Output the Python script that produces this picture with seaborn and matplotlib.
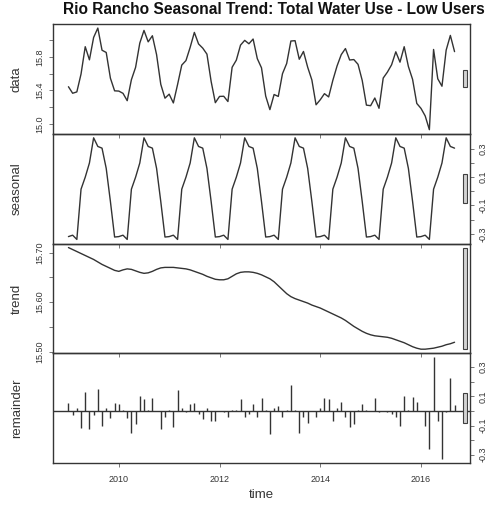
import numpy as np
import matplotlib
matplotlib.use("Agg")
import matplotlib.pyplot as plt
import seaborn as sns
from matplotlib.patches import Rectangle
from matplotlib.ticker import FixedLocator, FixedFormatter

# Monthly series, Jan 2009 .. Sep 2016 (log scale water use)
start_year = 2009

data = [
    15.444, 15.366, 15.382, 15.596, 15.923, 15.766, 16.034, 16.146, 15.881, 15.854, 15.546, 15.395,
    15.392, 15.365, 15.277, 15.528, 15.676, 15.966, 16.118, 15.981, 16.054, 15.828, 15.473, 15.307,
    15.355, 15.250, 15.470, 15.703, 15.757, 15.915, 16.094, 15.956, 15.906, 15.834, 15.507, 15.253,
    15.328, 15.330, 15.267, 15.677, 15.762, 15.942, 15.999, 15.958, 16.015, 15.780, 15.670, 15.332,
    15.170, 15.351, 15.328, 15.600, 15.722, 15.991, 15.995, 15.773, 15.866, 15.678, 15.525, 15.228,
    15.288, 15.361, 15.322, 15.521, 15.692, 15.828, 15.901, 15.764, 15.769, 15.712, 15.519, 15.224,
    15.217, 15.309, 15.186, 15.548, 15.619, 15.707, 15.862, 15.738, 15.923, 15.686, 15.532, 15.244,
    15.185, 15.095, 14.930, 15.890, 15.539, 15.450, 15.882, 16.058, 15.864,
]

seasonal = [
    -0.320, -0.310, -0.340, 0.015, 0.100, 0.200, 0.378, 0.317, 0.305, 0.162, -0.072, -0.323,
    -0.320, -0.310, -0.340, 0.015, 0.100, 0.200, 0.378, 0.317, 0.305, 0.162, -0.072, -0.323,
    -0.320, -0.310, -0.340, 0.015, 0.100, 0.200, 0.378, 0.317, 0.305, 0.162, -0.072, -0.323,
    -0.320, -0.310, -0.340, 0.015, 0.100, 0.200, 0.378, 0.317, 0.305, 0.162, -0.072, -0.323,
    -0.320, -0.310, -0.340, 0.015, 0.100, 0.200, 0.378, 0.317, 0.305, 0.162, -0.072, -0.323,
    -0.320, -0.310, -0.340, 0.015, 0.100, 0.200, 0.378, 0.317, 0.305, 0.162, -0.072, -0.323,
    -0.320, -0.310, -0.340, 0.015, 0.100, 0.200, 0.378, 0.317, 0.305, 0.162, -0.072, -0.323,
    -0.320, -0.310, -0.340, 0.015, 0.100, 0.200, 0.378, 0.317, 0.305,
]

trend = [
    15.710, 15.706, 15.702, 15.698, 15.694, 15.690, 15.686, 15.681, 15.676, 15.672, 15.668, 15.664,
    15.662, 15.665, 15.667, 15.666, 15.663, 15.660, 15.658, 15.659, 15.662, 15.666, 15.669, 15.670,
    15.670, 15.670, 15.669, 15.668, 15.667, 15.665, 15.662, 15.659, 15.656, 15.652, 15.649, 15.646,
    15.645, 15.645, 15.647, 15.652, 15.657, 15.660, 15.661, 15.661, 15.660, 15.658, 15.655, 15.651,
    15.647, 15.641, 15.633, 15.625, 15.617, 15.611, 15.607, 15.604, 15.601, 15.598, 15.594, 15.591,
    15.588, 15.584, 15.580, 15.576, 15.572, 15.568, 15.563, 15.557, 15.551, 15.546, 15.541, 15.537,
    15.534, 15.532, 15.531, 15.530, 15.529, 15.527, 15.524, 15.521, 15.518, 15.514, 15.510, 15.507,
    15.505, 15.505, 15.506, 15.507, 15.509, 15.511, 15.514, 15.516, 15.519,
]

remainder = [
    0.054, -0.030, 0.020, -0.117, 0.129, -0.124, -0.030, 0.148, -0.100, 0.020, -0.050, 0.054,
    0.050, 0.010, -0.050, -0.153, -0.087, 0.106, 0.082, 0.005, 0.087, 0.000, -0.124, -0.040,
    0.005, -0.110, 0.141, 0.020, -0.010, 0.050, 0.054, -0.020, -0.055, 0.020, -0.070, -0.070,
    0.003, -0.005, -0.040, 0.010, 0.005, 0.082, -0.040, -0.020, 0.050, -0.040, 0.087, 0.004,
    -0.157, 0.020, 0.035, -0.040, 0.005, 0.180, 0.010, -0.148, -0.040, -0.082, 0.003, -0.040,
    0.020, 0.087, 0.082, -0.070, 0.020, 0.060, -0.040, -0.110, -0.087, 0.004, 0.050, 0.010,
    0.003, 0.087, -0.005, 0.003, -0.010, -0.020, -0.040, -0.100, 0.100, 0.010, 0.094, 0.060,
    0.000, -0.100, -0.258, 0.368, -0.070, -0.329, -0.010, 0.225, 0.040,
]

panel_names = ["data", "seasonal", "trend", "remainder"]
year_ticks = [2010, 2012, 2014, 2016]
year_labels = ["2010", "2012", "2014", "2016"]

data_ticks = [15.0, 15.2, 15.4, 15.6, 15.8, 16.0]
data_labels = ["15.0", "", "15.4", "", "15.8", ""]
seasonal_ticks = [-0.3, -0.2, -0.1, 0.0, 0.1, 0.2, 0.3]
seasonal_labels = ["-0.3", "", "-0.1", "", "0.1", "", "0.3"]
trend_ticks = [15.50, 15.55, 15.60, 15.65, 15.70]
trend_labels = ["15.50", "", "15.60", "", "15.70"]
remainder_ticks = [-0.3, -0.2, -0.1, 0.0, 0.1, 0.2, 0.3]
remainder_labels = ["-0.3", "", "-0.1", "", "0.1", "", "0.3"]

title = "Rio Rancho Seasonal Trend: Total Water Use - Low Users"

sns.set_style("white")
plt.rcParams["font.family"] = ["Liberation Sans", "DejaVu Sans"]

time = start_year + np.arange(len(data)) / 12.0
series = [np.asarray(data), np.asarray(seasonal), np.asarray(trend), np.asarray(remainder)]
tick_sets = [(data_ticks, data_labels), (seasonal_ticks, seasonal_labels),
             (trend_ticks, trend_labels), (remainder_ticks, remainder_labels)]
sides = ["left", "right", "left", "right"]

W, H = 489, 508
fig = plt.figure(figsize=(W / 100, H / 100), dpi=100)
fig.patch.set_facecolor("white")

left_px, right_px, top_px, bottom_px = 53, 470, 24, 463
panel_h = (bottom_px - top_px) / 4
line_col = "#333333"
text_col = "#353535"

# x range with 4% padding, as in base graphics
t0, t1 = time[0], time[-1]
pad = 0.04 * (t1 - t0)
xlim = (t0 - pad, t1 + pad)
dx = (xlim[1] - xlim[0]) / 64.0

# range bar length: smallest component range
bar_len = min(np.ptp(s) for s in series)

axes = []
for k, (name, y) in enumerate(zip(panel_names, series)):
    y0 = top_px + k * panel_h
    ax = fig.add_axes([left_px / W, 1 - (y0 + panel_h) / H,
                       (right_px - left_px) / W, panel_h / H])
    ax.patch.set_alpha(0)
    axes.append(ax)

    center = (y.min() + y.max()) / 2
    lo = min(y.min(), center - bar_len / 2)
    hi = max(y.max(), center + bar_len / 2)
    ypad = 0.04 * (hi - lo)
    ax.set_xlim(*xlim)
    ax.set_ylim(lo - ypad, hi + ypad)

    if name == "remainder":
        ax.axhline(0, color=line_col, lw=1.0)
        ax.vlines(time, 0, y, color=line_col, lw=1.0)
    else:
        sns.lineplot(x=time, y=y, ax=ax, color=line_col, lw=1.0)

    # range bar at right edge
    ax.add_patch(Rectangle((xlim[1] - dx, center - bar_len / 2), 0.6 * dx, bar_len,
                           facecolor="#d3d3d3", edgecolor="#404040", lw=0.8,
                           clip_on=False, zorder=5))

    for sp in ax.spines.values():
        sp.set_color("#353535")
        sp.set_linewidth(1.0)

    ticks, labels = tick_sets[k]
    ax.yaxis.set_major_locator(FixedLocator(ticks))
    ax.yaxis.set_major_formatter(FixedFormatter(labels))
    side = sides[k]
    ax.tick_params(axis="y", which="major", left=(side == "left"), right=(side == "right"),
                   labelleft=(side == "left"), labelright=(side == "right"),
                   direction="out", length=3, width=0.6, color="#606060",
                   labelsize=6.5, labelcolor=text_col, pad=3)
    for lab in ax.get_yticklabels():
        lab.set_rotation(90)
        lab.set_va("center")

    ax.xaxis.set_major_locator(FixedLocator(year_ticks))
    last = (k == 3)
    ax.xaxis.set_major_formatter(FixedFormatter(year_labels if last else [""] * len(year_ticks)))
    ax.tick_params(axis="x", bottom=True, labelbottom=last, direction="out",
                   length=3, width=0.6, color="#606060", labelsize=6.5,
                   labelcolor=text_col, pad=6)
    ax.set_xlabel("")
    ax.set_ylabel("")

    fig.text(17 / W, 1 - (y0 + panel_h / 2) / H, name, rotation=90,
             ha="center", va="center", fontsize=9.5, color=text_col)

fig.text(274 / W, 1 - 9.5 / H, title, ha="center", va="center",
         fontsize=11.2, fontweight="bold", color="#111111")
fig.text((left_px + right_px) / 2 / W, 1 - 495 / H, "time", ha="center", va="center",
         fontsize=9.5, color=text_col)

fig.savefig("out.png", dpi=100, facecolor="white")
